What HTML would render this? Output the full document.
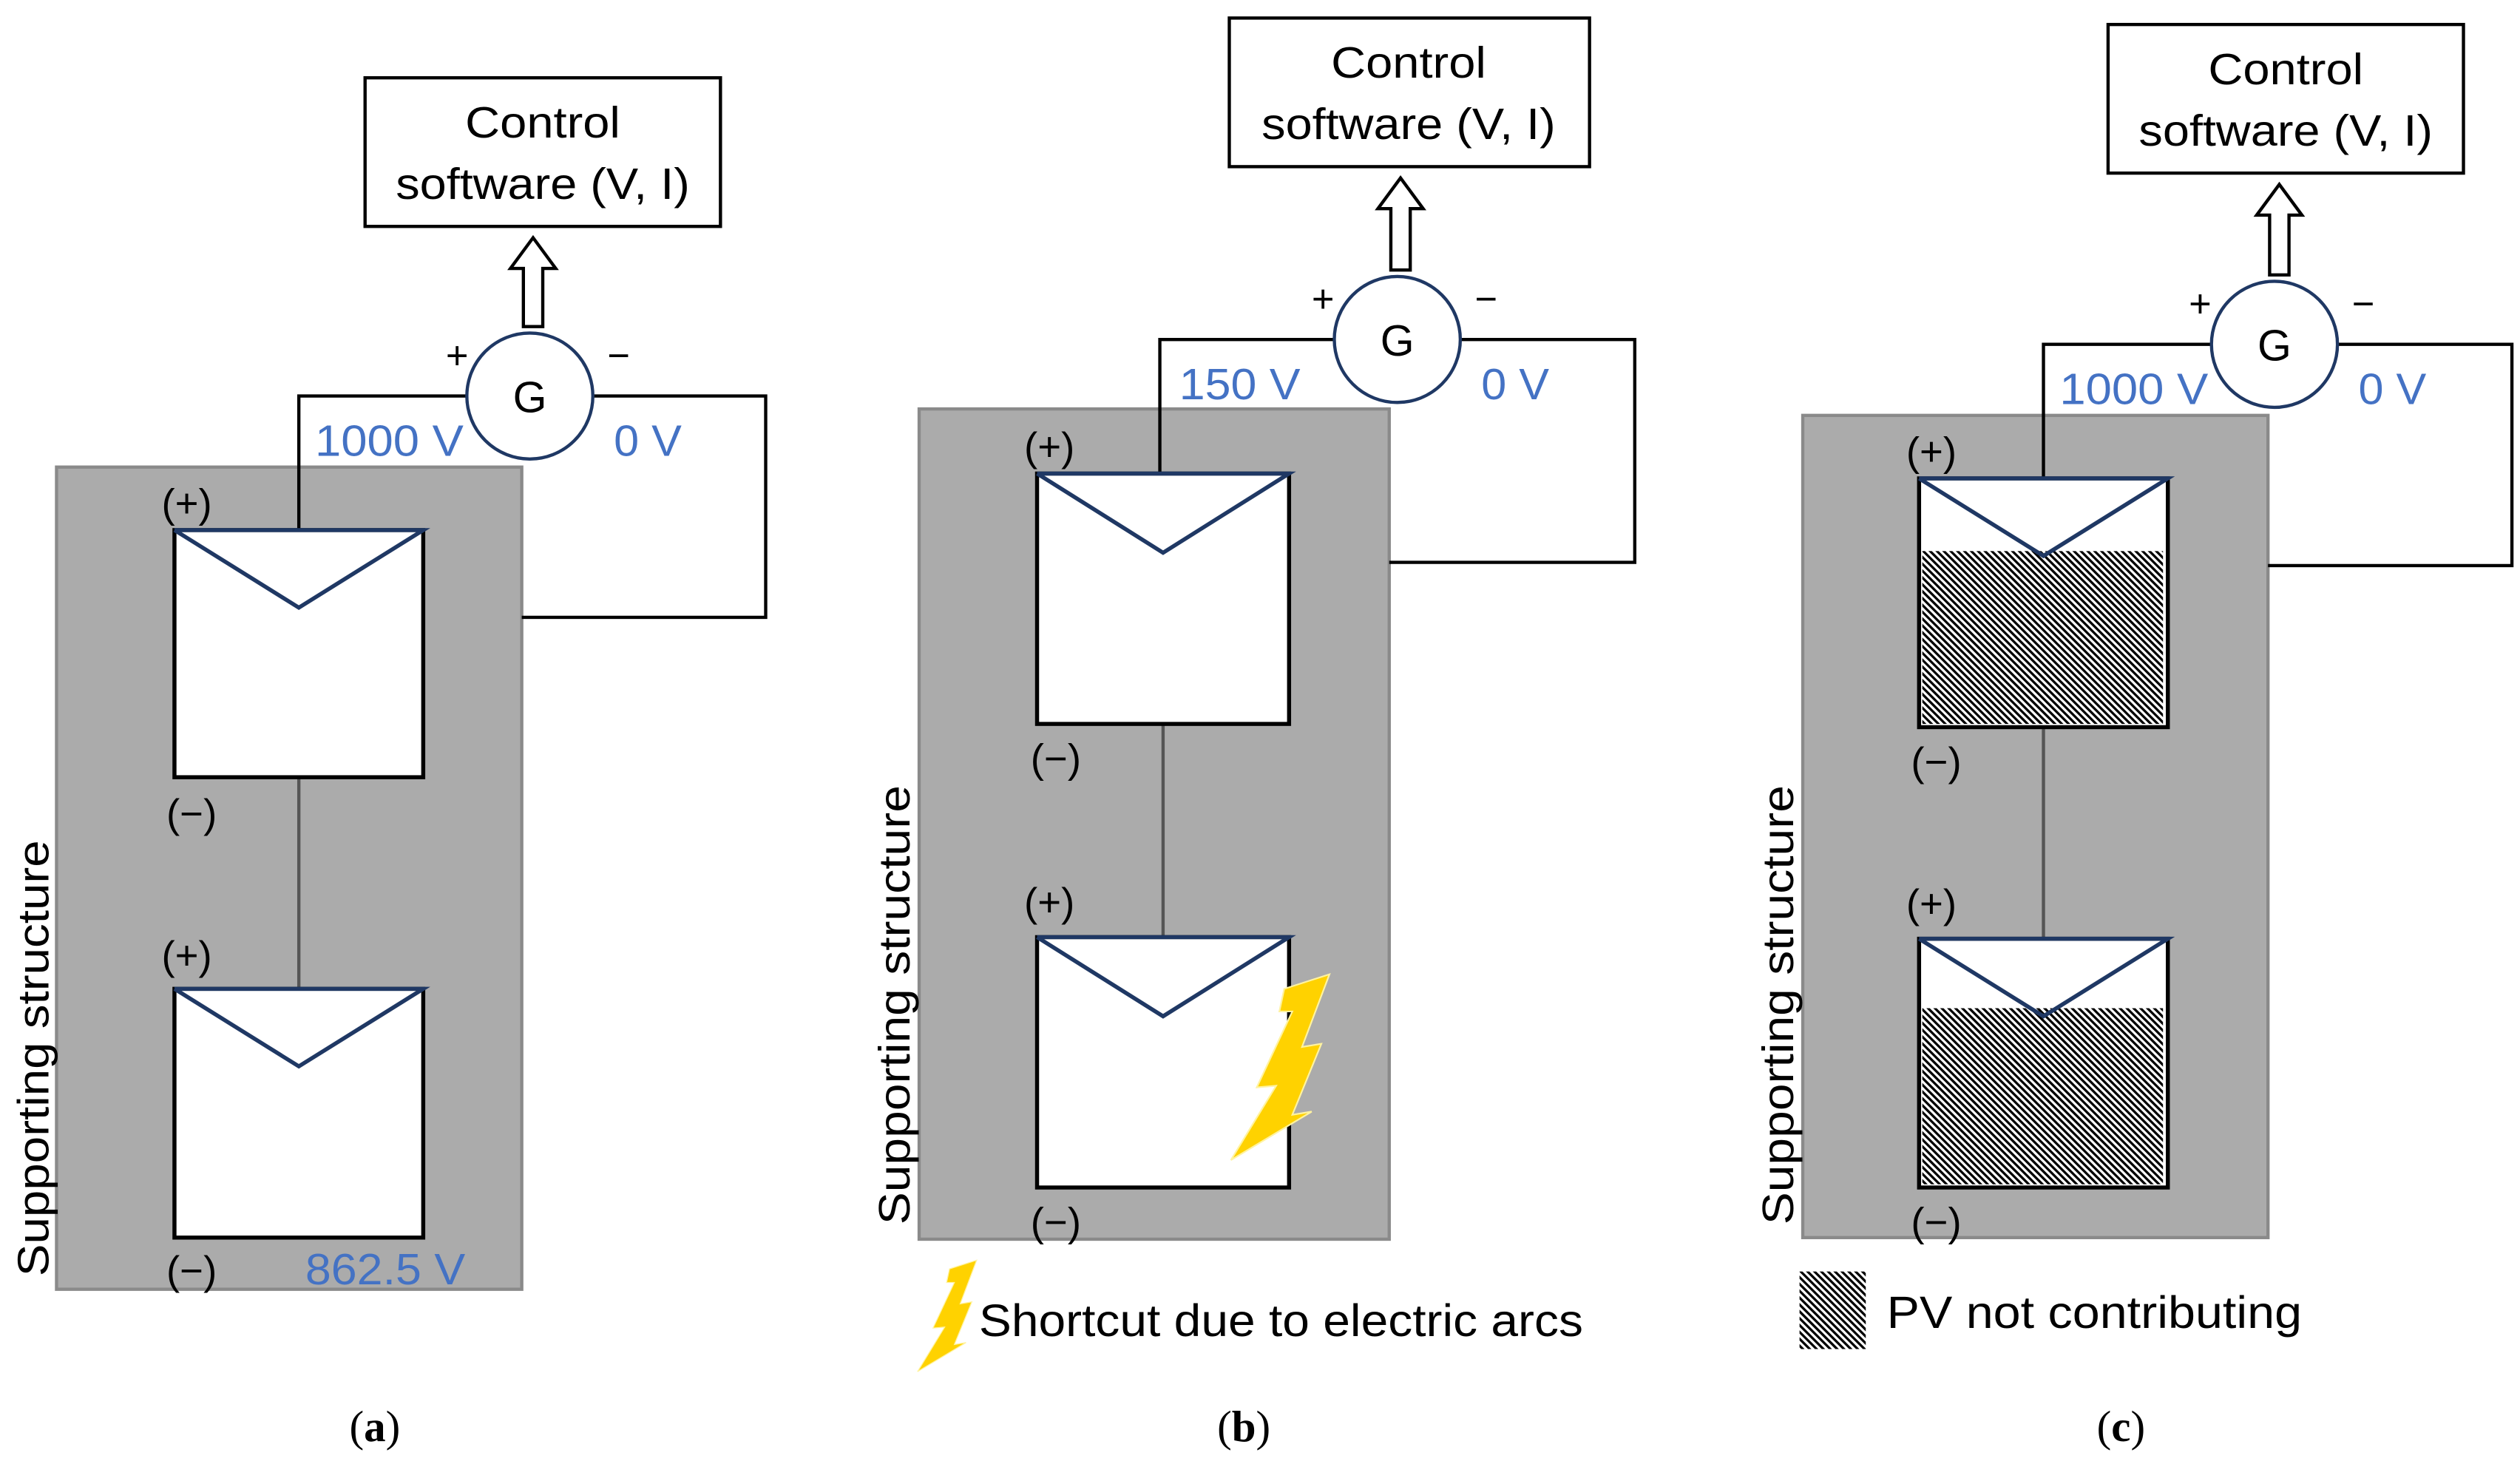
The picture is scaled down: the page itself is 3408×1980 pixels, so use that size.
<!DOCTYPE html>
<html><head><meta charset="utf-8"><style>html,body{margin:0;padding:0;background:#fff}svg{display:block}</style></head><body>
<svg width="3408" height="1980" viewBox="0 0 1560 906" xmlns="http://www.w3.org/2000/svg" font-family="'Liberation Sans', sans-serif">
<defs>
<pattern id="h" width="3" height="3" patternUnits="userSpaceOnUse" patternTransform="rotate(-45)">
<rect width="3" height="3" fill="#fff"/><rect width="1.5" height="3" fill="#000"/>
</pattern>
<g id="bolt"><polygon points="795,612 823,603 806,648 818,646 800,690 812,688 762,718 790,672 778,673 800,626 792,626" fill="#FFD200" stroke="#fff3a0" stroke-width="1"/></g>
</defs>
<rect width="1560" height="906" fill="#fff"/>

<!-- Panel A -->
<rect x="35" y="289" width="288" height="509" fill="#ababab" stroke="#8a8a8a" stroke-width="2"/>
<rect x="226" y="48" width="220" height="92" fill="#fff" stroke="#000" stroke-width="2"/>
<text x="288" y="85" font-size="27" textLength="96" lengthAdjust="spacingAndGlyphs">Control</text>
<text x="245" y="123" font-size="27" textLength="182" lengthAdjust="spacingAndGlyphs">software (V, I)</text>
<polygon points="324,202 324,166 316,166 330,147 344,166 336,166 336,202" fill="#fff" stroke="#000" stroke-width="2"/>
<polyline points="289,245 185,245 185,328" fill="none" stroke="#000" stroke-width="2"/>
<polyline points="367,245 474,245 474,382 323,382" fill="none" stroke="#000" stroke-width="2"/>
<circle cx="328" cy="245" r="39" fill="#fff" stroke="#1f3864" stroke-width="2"/>
<text x="328" y="255" font-size="27" text-anchor="middle">G</text>
<text x="283" y="228" font-size="24" text-anchor="middle">+</text>
<text x="383" y="228" font-size="24" text-anchor="middle">−</text>
<text x="195" y="282" font-size="27" fill="#4472C4" textLength="92" lengthAdjust="spacingAndGlyphs">1000 V</text>
<text x="380" y="282" font-size="27" fill="#4472C4" textLength="42" lengthAdjust="spacingAndGlyphs">0 V</text>
<line x1="185" y1="481" x2="185" y2="612" stroke="#555" stroke-width="2"/>
<rect x="108" y="328" width="154" height="153" fill="#fff" stroke="#000" stroke-width="2.5"/>
<polyline points="108,328 185,376 262,328 108,328" fill="none" stroke="#1f3864" stroke-width="2.5"/>
<rect x="108" y="612" width="154" height="154" fill="#fff" stroke="#000" stroke-width="2.5"/>
<polyline points="108,612 185,660 262,612 108,612" fill="none" stroke="#1f3864" stroke-width="2.5"/>
<text x="100" y="320" font-size="25">(+)</text>
<text x="103" y="512" font-size="25">(−)</text>
<text x="100" y="600" font-size="25">(+)</text>
<text x="103" y="795" font-size="25">(−)</text>
<text x="189" y="795" font-size="27" fill="#4472C4" textLength="99" lengthAdjust="spacingAndGlyphs">862.5 V</text>
<text transform="translate(30,655) rotate(-90)" font-size="27" text-anchor="middle" textLength="270" lengthAdjust="spacingAndGlyphs">Supporting structure</text>
<text x="232" y="892" font-size="27" text-anchor="middle" font-family="'Liberation Serif', serif">(<tspan font-weight="bold">a</tspan>)</text>

<!-- Panel B -->
<rect x="569" y="253" width="291" height="514" fill="#ababab" stroke="#8a8a8a" stroke-width="2"/>
<rect x="761" y="11" width="223" height="92" fill="#fff" stroke="#000" stroke-width="2"/>
<text x="824" y="48" font-size="27" textLength="96" lengthAdjust="spacingAndGlyphs">Control</text>
<text x="781" y="86" font-size="27" textLength="182" lengthAdjust="spacingAndGlyphs">software (V, I)</text>
<polygon points="861,167 861,129 853,129 867,110 881,129 873,129 873,167" fill="#fff" stroke="#000" stroke-width="2"/>
<polyline points="826,210 718,210 718,293" fill="none" stroke="#000" stroke-width="2"/>
<polyline points="904,210 1012,210 1012,348 860,348" fill="none" stroke="#000" stroke-width="2"/>
<circle cx="865" cy="210" r="39" fill="#fff" stroke="#1f3864" stroke-width="2"/>
<text x="865" y="220" font-size="27" text-anchor="middle">G</text>
<text x="819" y="193" font-size="24" text-anchor="middle">+</text>
<text x="920" y="193" font-size="24" text-anchor="middle">−</text>
<text x="730" y="247" font-size="27" fill="#4472C4" textLength="75" lengthAdjust="spacingAndGlyphs">150 V</text>
<text x="917" y="247" font-size="27" fill="#4472C4" textLength="42" lengthAdjust="spacingAndGlyphs">0 V</text>
<line x1="720" y1="448" x2="720" y2="580" stroke="#555" stroke-width="2"/>
<rect x="642" y="293" width="156" height="155" fill="#fff" stroke="#000" stroke-width="2.5"/>
<polyline points="642,293 720,342 798,293 642,293" fill="none" stroke="#1f3864" stroke-width="2.5"/>
<rect x="642" y="580" width="156" height="155" fill="#fff" stroke="#000" stroke-width="2.5"/>
<polyline points="642,580 720,629 798,580 642,580" fill="none" stroke="#1f3864" stroke-width="2.5"/>
<use href="#bolt"/>
<text x="634" y="285" font-size="25">(+)</text>
<text x="638" y="478" font-size="25">(−)</text>
<text x="634" y="567" font-size="25">(+)</text>
<text x="638" y="765" font-size="25">(−)</text>
<text transform="translate(563,622) rotate(-90)" font-size="27" text-anchor="middle" textLength="272" lengthAdjust="spacingAndGlyphs">Supporting structure</text>
<use href="#bolt" transform="translate(568,780) scale(0.6) translate(-762,-603)"/>
<text x="606" y="827" font-size="28" textLength="374" lengthAdjust="spacingAndGlyphs">Shortcut due to electric arcs</text>
<text x="770" y="892" font-size="27" text-anchor="middle" font-family="'Liberation Serif', serif">(<tspan font-weight="bold">b</tspan>)</text>

<!-- Panel C -->
<rect x="1116" y="257" width="288" height="509" fill="#ababab" stroke="#8a8a8a" stroke-width="2"/>
<rect x="1305" y="15" width="220" height="92" fill="#fff" stroke="#000" stroke-width="2"/>
<text x="1367" y="52" font-size="27" textLength="96" lengthAdjust="spacingAndGlyphs">Control</text>
<text x="1324" y="90" font-size="27" textLength="182" lengthAdjust="spacingAndGlyphs">software (V, I)</text>
<polygon points="1405,170 1405,133 1397,133 1411,114 1425,133 1417,133 1417,170" fill="#fff" stroke="#000" stroke-width="2"/>
<polyline points="1369,213 1265,213 1265,296" fill="none" stroke="#000" stroke-width="2"/>
<polyline points="1447,213 1555,213 1555,350 1404,350" fill="none" stroke="#000" stroke-width="2"/>
<circle cx="1408" cy="213" r="39" fill="#fff" stroke="#1f3864" stroke-width="2"/>
<text x="1408" y="223" font-size="27" text-anchor="middle">G</text>
<text x="1362" y="196" font-size="24" text-anchor="middle">+</text>
<text x="1463" y="196" font-size="24" text-anchor="middle">−</text>
<text x="1275" y="250" font-size="27" fill="#4472C4" textLength="92" lengthAdjust="spacingAndGlyphs">1000 V</text>
<text x="1460" y="250" font-size="27" fill="#4472C4" textLength="42" lengthAdjust="spacingAndGlyphs">0 V</text>
<line x1="1265" y1="450" x2="1265" y2="581" stroke="#555" stroke-width="2"/>
<rect x="1188" y="296" width="154" height="154" fill="#fff" stroke="#000" stroke-width="2.5"/>
<rect x="1190" y="341" width="149" height="107" fill="url(#h)"/>
<polyline points="1188,296 1265,344 1342,296 1188,296" fill="none" stroke="#1f3864" stroke-width="2.5"/>
<rect x="1188" y="581" width="154" height="154" fill="#fff" stroke="#000" stroke-width="2.5"/>
<rect x="1190" y="624" width="149" height="109" fill="url(#h)"/>
<polyline points="1188,581 1265,629 1342,581 1188,581" fill="none" stroke="#1f3864" stroke-width="2.5"/>
<text x="1180" y="288" font-size="25">(+)</text>
<text x="1183" y="480" font-size="25">(−)</text>
<text x="1180" y="568" font-size="25">(+)</text>
<text x="1183" y="765" font-size="25">(−)</text>
<text transform="translate(1110,622) rotate(-90)" font-size="27" text-anchor="middle" textLength="272" lengthAdjust="spacingAndGlyphs">Supporting structure</text>
<rect x="1114" y="787" width="41" height="48" fill="url(#h)"/>
<text x="1168" y="822" font-size="28" textLength="257" lengthAdjust="spacingAndGlyphs">PV not contributing</text>
<text x="1313" y="892" font-size="27" text-anchor="middle" font-family="'Liberation Serif', serif">(<tspan font-weight="bold">c</tspan>)</text>
</svg>
</body></html>
